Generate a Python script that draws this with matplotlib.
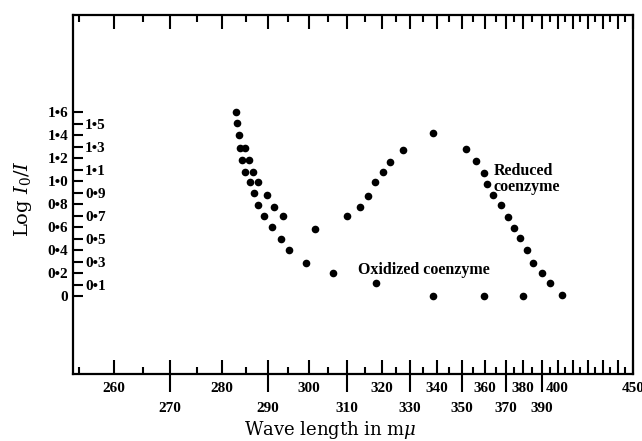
import numpy as np
import matplotlib.pyplot as plt
from matplotlib.ticker import FixedLocator, FuncFormatter, NullLocator

plt.rcParams['font.family'] = ['Liberation Serif', 'DejaVu Serif']

# oxidized coenzyme (wave length in m-mu, log I0/I)
ox_wl = [282.9, 283.1, 283.5, 283.75, 284.2, 284.8, 285.9, 286.9, 287.8, 289.0,
         290.9, 293.2, 295.2, 299.3, 306.4, 318.1, 338.7, 359.7, 380.2]
ox_log = [1.60, 1.51, 1.40, 1.29, 1.19, 1.08, 0.99, 0.90, 0.79, 0.70,
          0.60, 0.50, 0.40, 0.29, 0.20, 0.11, 0.0, 0.0, 0.0]

# reduced coenzyme
red_wl = [284.8, 285.7, 286.5, 287.8, 289.7, 291.6, 293.8, 301.6, 310.1, 313.7,
          315.9, 317.9, 320.2, 322.8, 327.4, 338.6, 351.8, 356.1, 359.6, 361.0,
          363.9, 367.3, 371.4, 375.0, 378.6, 382.3, 385.6, 390.4, 395.4, 403.1]
red_log = [1.29, 1.19, 1.08, 0.99, 0.88, 0.78, 0.70, 0.58, 0.70, 0.78,
           0.87, 0.99, 1.08, 1.17, 1.27, 1.42, 1.28, 1.18, 1.07, 0.98,
           0.88, 0.79, 0.69, 0.59, 0.51, 0.40, 0.29, 0.20, 0.11, 0.01]

# the wave length axis of the original is not linear: calibration of it
scale_nm = [250, 255, 260, 265, 270, 275, 280, 285, 290, 295, 300, 305, 310, 315,
            320, 325, 330, 335, 340, 345, 350, 355, 360, 365, 370, 375, 380, 385,
            390, 395, 400, 450]
scale_pos = [41, 79, 114, 143, 170, 197, 222, 246, 268, 288, 309, 328, 347, 365,
             382, 396, 410, 423, 436.5, 449, 462, 473, 484.5, 496, 506, 514, 522.5,
             532, 541.5, 549.5, 557.5, 633]

upper_labels = [260, 280, 300, 320, 340, 360, 380, 400, 450]
lower_labels = [270, 290, 310, 330, 350, 370, 390]


def fwd(x):
    return np.interp(x, scale_nm, scale_pos)


def inv(p):
    return np.interp(p, scale_pos, scale_nm)


def ylab(v, pos):
    if abs(v) < 1e-9:
        return '0'
    return ('%.1f' % v).replace('.', '\u2022')


fig = plt.figure(figsize=(6.42, 4.41), dpi=100)
ax = fig.add_axes([73/642, 67/441, 560/642, 359/441])
ax.set_xscale('function', functions=(fwd, inv))
ax.set_xlim(254.2, 450)
ax.set_ylim(-0.68, 2.45)

ax.plot(ox_wl, ox_log, 'o', color='black', ms=5.5, mec='none')
ax.plot(red_wl, red_log, 'o', color='black', ms=5.5, mec='none')

for s in ax.spines.values():
    s.set_linewidth(1.6)

# long ticks crossing the axis, with the lower row of labels
ax2 = ax.twiny()
ax2.set_xscale('function', functions=(fwd, inv))
ax2.set_xlim(ax.get_xlim())
ax2.xaxis.set_ticks_position('bottom')
ax2.xaxis.set_label_position('bottom')
ax2.xaxis.set_major_locator(FixedLocator(lower_labels))
ax2.xaxis.set_minor_locator(NullLocator())
ax2.xaxis.set_major_formatter(FuncFormatter(lambda v, p: '%d' % round(v)))
ax2.tick_params(axis='x', which='major', direction='out', length=13, width=1.5,
                labelsize=11, pad=7)
for s in ax2.spines.values():
    s.set_visible(False)

# x ticks on the main axes, bottom and top
ax.xaxis.set_major_locator(FixedLocator(np.arange(260, 451, 10)))
ax.xaxis.set_minor_locator(FixedLocator(np.arange(255, 450, 10)))
ax.xaxis.set_major_formatter(FuncFormatter(
    lambda v, p: '%d' % round(v) if round(v) in upper_labels else ''))
ax.tick_params(axis='x', which='major', direction='in', length=10, width=1.5,
               top=True, bottom=True, labelbottom=True, labeltop=False,
               labelsize=11, pad=6)
ax.tick_params(axis='x', which='minor', direction='in', length=5, width=1.5,
               top=True, bottom=True)

# y ticks: even values outside, odd values inside
ax.yaxis.set_major_locator(FixedLocator(np.arange(0, 1.61, 0.2)))
ax.yaxis.set_minor_locator(FixedLocator(np.arange(0.1, 1.6, 0.2)))
ax.yaxis.set_major_formatter(FuncFormatter(ylab))
ax.yaxis.set_minor_formatter(FuncFormatter(ylab))
ax.tick_params(axis='y', which='both', direction='in', length=7, width=1.5,
               labelsize=11, right=False)
ax.tick_params(axis='y', which='major', pad=3.5)
ax.tick_params(axis='y', which='minor', pad=-23.5)

for lbl in (ax.get_xticklabels() + ax2.get_xticklabels() + ax.get_yticklabels()
            + ax.get_yticklabels(minor=True)):
    lbl.set_fontweight('bold')

ax.text(364, 1.02, 'Reduced\ncoenzyme', fontsize=11.5, fontweight='bold',
        ha='left', va='center', linespacing=1.0)
ax.text(313.1, 0.227, 'Oxidized coenzyme', fontsize=11.5, fontweight='bold',
        ha='left', va='center')

ax.set_ylabel('Log $I_0/I$', fontsize=14, family='DejaVu Serif',
              math_fontfamily='dejavuserif')
ax.yaxis.set_label_coords(-0.07, 0.49)
ax2.set_xlabel('Wave length in m$\\mu$', fontsize=13, family='DejaVu Serif',
               math_fontfamily='dejavuserif')
ax2.xaxis.set_label_coords(0.459, -0.125)

fig.savefig('out.png', dpi=100)
